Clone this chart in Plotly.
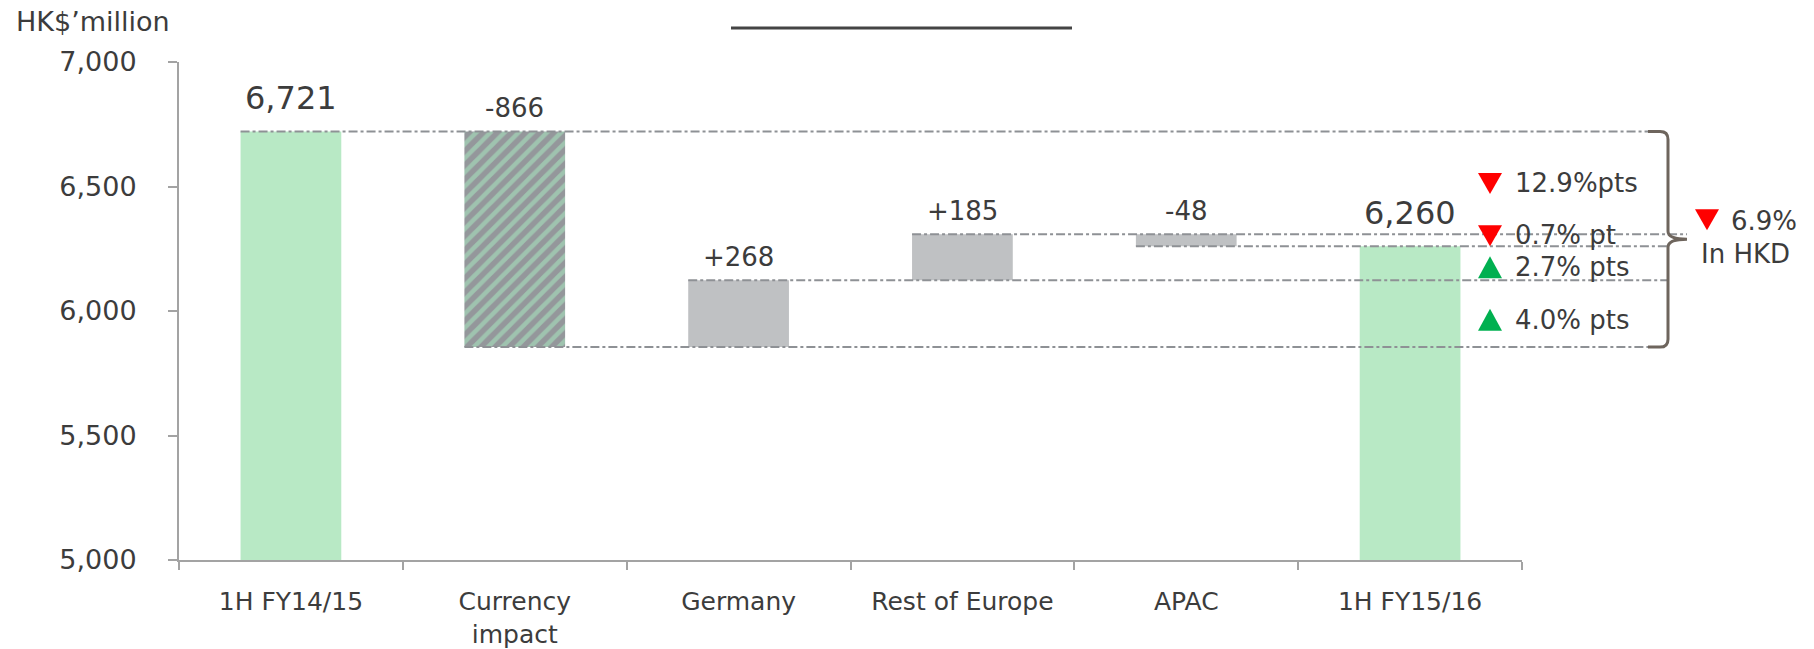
import plotly.graph_objects as go

# ---- data -------------------------------------------------------------
categories = ["1H FY14/15", "Currency<br>impact", "Germany", "Rest of Europe", "APAC", "1H FY15/16"]
start_value = 6721
changes = [-866, 268, 185, -48]
end_value = 6260
value_labels = ["6,721", "-866", "+268", "+185", "-48", "6,260"]
hatched = ["Currency<br>impact"]

pct_labels = ["12.9%pts", "0.7% pt", "2.7% pts", "4.0% pts"]
pct_direction = ["down", "down", "up", "up"]
total_change_label = "6.9%"
total_change_note = "In HKD"
unit_label = "HK$\u2019million"

y_tickvals = [5000, 5500, 6000, 6500, 7000]
y_ticktext = ["5,000", "5,500", "6,000", "6,500", "7,000"]

# ---- styling -----------------------------------------------------------
FONT = "DejaVu Sans"
TEXT = "#3c3c3c"
GREEN_BAR = "#b8e9c5"
GREY_BAR = "#bfc1c3"
HATCH_BG = "#94979b"
HATCH_FG = "#aaf0c4"
AXIS = "#a3a3a3"
DASH = "#8e9195"
BRACKET = "#6e655d"
RED = "#ff0000"
GREEN = "#00b050"

W, H = 1814, 649
M_L, M_R, M_T, M_B = 179, 292, 62, 89
PLOT_W = W - M_L - M_R
BAR_W = 0.45
n = len(categories)


def px_x(px):
    """Horizontal pixel -> paper coordinate."""
    return (px - M_L) / PLOT_W


def cat_x(pos):
    """Category position (index units) -> paper coordinate."""
    return (pos + 0.5) / n


# running levels of the bridge
levels = [start_value]
for c in changes:
    levels.append(levels[-1] + c)

bases, heights = [0], [start_value]
for prev, cur in zip(levels[:-1], levels[1:]):
    bases.append(min(prev, cur))
    heights.append(abs(cur - prev))
bases.append(0)
heights.append(end_value)
tops = [b + h for b, h in zip(bases, heights)]

colors = [GREEN_BAR] + [GREY_BAR] * len(changes) + [GREEN_BAR]

plain = [i for i, c in enumerate(categories) if c not in hatched]
striped = [i for i, c in enumerate(categories) if c in hatched]

fig = go.Figure()
fig.add_trace(go.Bar(
    x=[categories[i] for i in plain],
    y=[heights[i] for i in plain],
    base=[bases[i] for i in plain],
    width=BAR_W,
    marker=dict(color=[colors[i] for i in plain], line=dict(width=0)),
    hoverinfo="skip",
))
fig.add_trace(go.Bar(
    x=[categories[i] for i in striped],
    y=[heights[i] for i in striped],
    base=[bases[i] for i in striped],
    width=BAR_W,
    marker=dict(
        color=HATCH_BG,
        line=dict(width=0),
        pattern=dict(shape="/", fgcolor=HATCH_FG, bgcolor=HATCH_BG,
                     size=10, solidity=0.45, fillmode="overlay"),
    ),
    hoverinfo="skip",
))

annotations = []
shapes = []

# value labels above the bars
for i, (lab, top) in enumerate(zip(value_labels, tops)):
    is_total = i in (0, n - 1)
    annotations.append(dict(
        x=categories[i], y=top, xref="x", yref="y", text=lab, showarrow=False,
        xanchor="center", yanchor="middle", yshift=33 if is_total else 23,
        font=dict(family=FONT, size=32 if is_total else 26, color=TEXT),
    ))

# bracket geometry
bx0, bx1, bx2 = px_x(1648), px_x(1668), px_x(1687)
top_lvl, bot_lvl = max(levels), min(levels)
mid_lvl = (top_lvl + bot_lvl) / 2
r_x, r_y = px_x(1668) - px_x(1660), 32

# dash-dot connectors from each bar edge to the bracket
closest = min(levels[1:-1], key=lambda v: abs(v - mid_lvl))
for k, lvl in enumerate(levels):
    if lvl in (top_lvl, bot_lvl):
        x_end = bx0
    elif lvl == closest:
        x_end = bx2
    else:
        x_end = bx1
    shapes.append(dict(
        type="line", xref="paper", yref="y",
        x0=cat_x(k - BAR_W / 2), x1=x_end, y0=lvl, y1=lvl,
        line=dict(color=DASH, width=2, dash="dashdot"), layer="above",
    ))

bracket_path = (
    f"M {bx0},{top_lvl} L {bx1 - r_x},{top_lvl} Q {bx1},{top_lvl} {bx1},{top_lvl - r_y} "
    f"L {bx1},{mid_lvl + r_y} Q {bx1},{mid_lvl} {bx2},{mid_lvl} "
    f"Q {bx1},{mid_lvl} {bx1},{mid_lvl - r_y} "
    f"L {bx1},{bot_lvl + r_y} Q {bx1},{bot_lvl} {bx1 - r_x},{bot_lvl} L {bx0},{bot_lvl}"
)
shapes.append(dict(type="path", xref="paper", yref="y", path=bracket_path,
                   line=dict(color=BRACKET, width=3), layer="above"))


def triangle(x_paper, y_val, direction, yshift, color):
    if direction == "down":
        path = f"M -12,{yshift + 10} L 12,{yshift + 10} L 0,{yshift - 11} Z"
    else:
        path = f"M -12,{yshift - 11} L 12,{yshift - 11} L 0,{yshift + 11} Z"
    return dict(type="path", xref="paper", yref="y",
                xsizemode="pixel", ysizemode="pixel",
                xanchor=x_paper, yanchor=y_val, path=path,
                fillcolor=color, line=dict(width=0), layer="above")


# contribution labels placed between consecutive levels
sorted_lvls = sorted(set(levels), reverse=True)
mids = [(a + b) / 2 for a, b in zip(sorted_lvls[:-1], sorted_lvls[1:])]
nudges = [0, 5, -4, -6]
for lab, d, y_val, dy in zip(pct_labels, pct_direction, mids, nudges):
    col = RED if d == "down" else GREEN
    shapes.append(triangle(px_x(1490), y_val, d, dy, col))
    annotations.append(dict(
        x=px_x(1513), y=y_val, xref="paper", yref="y", text=lab, showarrow=False,
        xanchor="left", yanchor="middle", yshift=dy,
        font=dict(family=FONT, size=26, color=TEXT),
    ))

# overall change next to the bracket
shapes.append(triangle(px_x(1707), mid_lvl, "down", 20, RED))
annotations.append(dict(
    x=px_x(1729), y=mid_lvl, xref="paper", yref="y", text=total_change_label,
    showarrow=False, xanchor="left", yanchor="middle", yshift=18,
    font=dict(family=FONT, size=26, color=TEXT),
))
annotations.append(dict(
    x=px_x(1745), y=mid_lvl, xref="paper", yref="y", text=total_change_note,
    showarrow=False, xanchor="center", yanchor="middle", yshift=-15,
    font=dict(family=FONT, size=26, color=TEXT),
))

# unit label
annotations.append(dict(
    x=px_x(14), y=1 + (M_T - 22) / (H - M_T - M_B), xref="paper", yref="paper",
    text=unit_label, showarrow=False, xanchor="left", yanchor="middle",
    font=dict(family=FONT, size=27, color=TEXT),
))

# rule above the chart
rule_y = 1 + (M_T - 28) / (H - M_T - M_B)
shapes.append(dict(type="line", xref="paper", yref="paper",
                   x0=px_x(731), x1=px_x(1072), y0=rule_y, y1=rule_y,
                   line=dict(color="#444444", width=3)))

fig.update_layout(
    width=W, height=H,
    margin=dict(l=M_L, r=M_R, t=M_T, b=M_B, pad=0, autoexpand=False),
    paper_bgcolor="white", plot_bgcolor="white",
    showlegend=False,
    barmode="overlay",
    font=dict(family=FONT, color=TEXT),
    shapes=shapes,
    annotations=annotations,
    xaxis=dict(
        type="category", categoryorder="array", categoryarray=categories,
        range=[-0.5, n - 0.5], automargin=False,
        tickson="boundaries", ticks="outside", ticklen=8, tickwidth=2, tickcolor=AXIS,
        showline=True, linecolor=AXIS, linewidth=2, showgrid=False, zeroline=False,
        tickfont=dict(family=FONT, size=25, color=TEXT),
        ticklabelstandoff=18,
    ),
    yaxis=dict(
        range=[5000, 7000], tickvals=y_tickvals, ticktext=y_ticktext, automargin=False,
        ticks="outside", ticklen=9, tickwidth=2, tickcolor=AXIS,
        showline=True, linecolor=AXIS, linewidth=2, showgrid=False, zeroline=False,
        tickfont=dict(family=FONT, size=27, color=TEXT),
        ticklabelstandoff=26,
    ),
)

fig.write_html("out.html")
